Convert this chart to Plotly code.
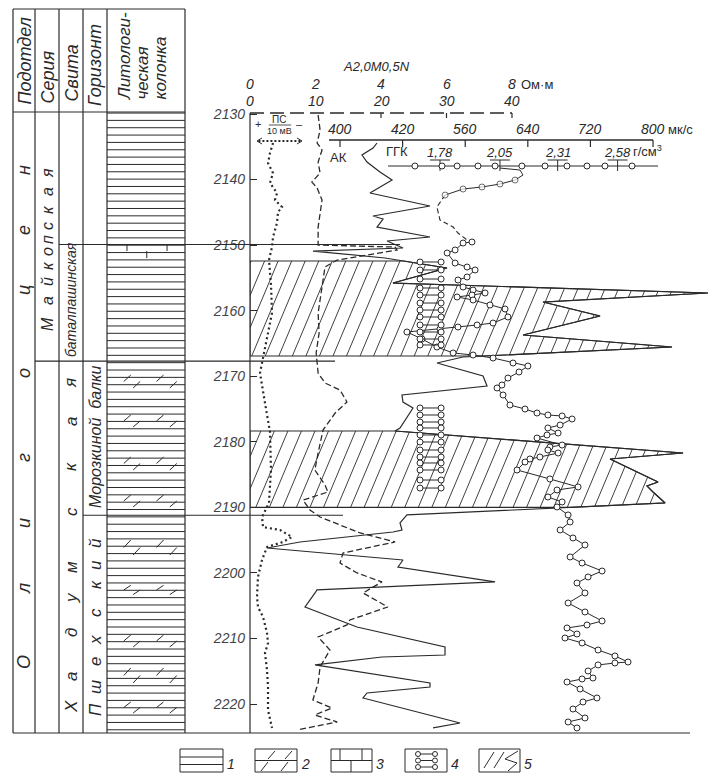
import numpy as np
import plotly.graph_objects as go

W, H = 717, 775
INK = "#2a2a2a"
FONT = "Liberation Sans Narrow, Liberation Sans, Arial, sans-serif"

# ======================= DATA =======================
DEPTH_TICKS = [2130, 2140, 2150, 2160, 2170, 2180, 2190, 2200, 2210, 2220]

# stratigraphic boundaries, m
B_BATAL = 2149.9
B_HADUM = 2167.7
B_PSHEH = 2191.2

# PS (spontaneous potential), mV deflection from the axis
PS_DEPTH = [2134.42, 2135.95, 2137.47, 2139.00, 2140.52, 2142.05, 2143.12, 2144.19, 2144.95, 2146.63,
            2148.76, 2150.29, 2152.27, 2156.08, 2160.35, 2164.01, 2167.06, 2169.50, 2174.08, 2178.50,
            2184.30, 2189.33, 2191.47, 2193.00, 2193.45, 2194.52, 2195.28, 2196.05, 2198.03, 2200.62,
            2203.67, 2205.20, 2206.72, 2209.16, 2210.69, 2212.21, 2214.81, 2217.40, 2220.91, 2223.65]
PS_MV = [5.48, 4.76, 4.29, 5.48, 4.76, 6.43, 5.95, 7.62, 6.67, 6.43,
         5.48, 5.24, 4.52, 5.00, 5.24, 4.05, 3.10, 2.38, 3.57, 4.76,
         5.00, 4.52, 2.86, 3.10, 7.14, 10.0, 7.86, 4.05, 2.86, 1.90,
         1.67, 1.90, 3.10, 4.05, 4.29, 3.57, 4.05, 4.29, 4.29, 5.24]

# apparent resistivity A2,0M0,5N, Ohm*m
RES_DEPTH = [2130.15, 2132.44, 2134.42, 2135.49, 2137.32, 2139.00, 2140.37, 2141.29, 2143.12, 2145.10,
             2147.24, 2149.98, 2150.29, 2150.74, 2152.27, 2153.34, 2155.32, 2157.91, 2160.35, 2163.40,
             2166.45, 2169.51, 2171.03, 2172.10, 2173.93, 2175.61, 2178.20, 2181.71, 2184.30, 2186.59,
             2187.66, 2188.88, 2190.40, 2191.47, 2193.91, 2195.28, 2196.96, 2198.49, 2200.01, 2201.38,
             2203.06, 2205.20, 2207.18, 2207.94, 2209.77, 2211.76, 2214.35, 2216.79, 2219.38, 2220.60,
             2221.67, 2222.74, 2223.96]
RES_OHMM = [2.08, 2.14, 2.05, 2.20, 2.08, 2.14, 1.89, 2.05, 2.20, 2.14,
            2.08, 2.08, 4.43, 4.49, 2.66, 2.29, 2.23, 2.14, 2.08, 2.11,
            2.02, 2.08, 2.29, 2.75, 2.96, 2.60, 2.23, 2.08, 1.98, 2.29,
            2.38, 1.62, 1.83, 2.14, 3.36, 4.43, 2.84, 2.75, 3.27, 4.03,
            3.45, 4.21, 3.05, 2.96, 2.08, 2.44, 2.14, 2.08, 1.92, 2.50,
            1.98, 2.66, 1.44]

# acoustic log (AK), mks
AK_DEPTH = [2134.42, 2135.19, 2136.25, 2137.32, 2138.85, 2140.07, 2142.05, 2144.03, 2145.56, 2146.02,
            2147.24, 2148.76, 2149.37, 2150.44, 2150.90, 2151.96, 2153.49, 2155.78, 2157.30, 2158.68,
            2160.81, 2163.71, 2165.54, 2167.06, 2167.98, 2169.96, 2171.49, 2172.86, 2173.93, 2174.84,
            2177.89, 2178.35, 2181.71, 2182.62, 2186.13, 2186.74, 2187.66, 2189.33, 2191.16, 2191.93,
            2192.38, 2193.45, 2193.76, 2195.28, 2196.20, 2198.03, 2199.10, 2201.38, 2202.60, 2203.06,
            2205.20, 2208.25, 2211.30, 2212.52, 2212.83, 2214.04, 2216.79, 2217.40, 2218.31, 2219.08,
            2222.89, 2223.65]
AK_US = [447.3, 442.2, 428.1, 434.5, 451.1, 466.5, 438.3, 515.0, 442.2, 455.0,
         447.3, 515.0, 460.1, 480.5, 365.5, 457.5, 536.7, 467.7, 870.3, 659.4,
         732.3, 633.9, 824.3, 557.2, 524.0, 582.8, 587.9, 479.2, 480.5, 493.3,
         476.7, 470.3, 838.4, 745.1, 806.4, 792.3, 800.0, 815.4, 485.6, 480.5,
         476.7, 479.2, 467.7, 348.9, 306.7, 480.5, 474.1, 598.1, 370.6, 368.1,
         355.3, 421.7, 534.2, 534.2, 453.7, 368.1, 515.0, 515.0, 434.5, 429.4,
         553.4, 518.9]

# gamma-gamma density (GGK), g/cm3
GGK_TOP_DEPTH = [2138.24, 2138.54, 2139.30, 2140.07, 2140.68, 2141.13, 2141.44, 2142.36]
GGK_TOP_RHO = [2.050, 2.140, 2.154, 2.118, 2.050, 1.969, 1.884, 1.803]
GGK_GAP_DEPTH = [2142.36, 2144.19, 2146.17, 2147.24, 2148.15, 2149.22, 2149.52]
GGK_GAP_RHO = [1.803, 1.766, 1.780, 1.839, 1.861, 1.902, 1.924]
GGK_DEPTH = [2149.52, 2149.68, 2150.74, 2151.20, 2152.73, 2153.34, 2153.79, 2154.86, 2155.32, 2156.39,
             2156.85, 2157.30, 2157.61, 2157.91, 2158.37, 2159.13, 2159.74, 2160.96, 2161.88, 2162.18,
             2162.49, 2162.79, 2163.25, 2164.32, 2165.54, 2166.45, 2166.76, 2167.22, 2167.98, 2168.44,
             2169.35, 2170.27, 2171.34, 2171.79, 2172.86, 2174.39, 2175.00, 2175.61, 2175.91, 2176.06,
             2176.52, 2177.44, 2177.89, 2178.66, 2178.96, 2179.42, 2180.49, 2180.79, 2181.25, 2181.71,
             2182.32, 2182.62, 2183.08, 2184.30, 2185.67, 2186.89, 2187.35, 2188.42, 2189.18, 2189.94,
             2191.16, 2192.23, 2193.45, 2194.67, 2195.74, 2197.57, 2198.49, 2199.71, 2200.62, 2201.54,
             2203.06, 2204.59, 2205.96, 2207.33, 2207.94, 2208.40, 2209.32, 2209.93, 2210.69, 2211.76,
             2212.67, 2213.59, 2213.74, 2214.04, 2214.96, 2216.03, 2216.18, 2216.64, 2217.71, 2219.08,
             2219.69, 2220.76, 2222.13, 2222.74, 2223.65]
GGK_RHO = [1.924, 1.884, 1.848, 1.812, 1.848, 1.902, 1.938, 1.902, 1.861, 1.884,
           1.929, 1.983, 1.924, 1.857, 1.929, 2.005, 2.073, 2.086, 2.019, 1.947,
           1.861, 1.780, 1.631, 1.699, 1.766, 1.839, 1.929, 2.019, 2.109, 2.176,
           2.136, 2.086, 2.059, 2.037, 2.064, 2.095, 2.163, 2.217, 2.266, 2.330,
           2.375, 2.321, 2.266, 2.312, 2.262, 2.217, 2.330, 2.275, 2.266, 2.312,
           2.230, 2.185, 2.163, 2.127, 2.275, 2.402, 2.307, 2.266, 2.330, 2.307,
           2.357, 2.366, 2.321, 2.379, 2.433, 2.366, 2.420, 2.510, 2.447, 2.397,
           2.433, 2.357, 2.433, 2.510, 2.442, 2.352, 2.397, 2.343, 2.420, 2.492,
           2.568, 2.627, 2.568, 2.492, 2.447, 2.469, 2.420, 2.352, 2.411, 2.487,
           2.424, 2.379, 2.433, 2.357, 2.397]

# hatched intervals (legend 5), m
HATCH_ZONES = [(2152.42, 2166.91), (2178.35, 2190.0)]
# sample rows (legend 4), m
CORE_DEPTHS = [2152.57, 2153.79, 2155.17, 2156.54, 2157.61, 2158.83, 2159.90, 2160.96, 2162.18, 2163.25,
               2164.32, 2165.23, 2174.84, 2175.91, 2176.98, 2177.89, 2178.96, 2180.03, 2181.25, 2182.32,
               2183.23, 2184.30, 2185.83, 2187.05]
# marl interbeds in the lithological column (top, bottom), m
MARL_BEDS = [(2169.81, 2171.79), (2175.91, 2177.74), (2182.32, 2184.30), (2188.11, 2189.94),
             (2194.98, 2197.27), (2201.9, 2203.3), (2209.47, 2211.30), (2214.50, 2216.79), (2219.69, 2221.37)]
LIMESTONE = (2149.83, 2151.97)

# scale labels
RES_TICKS = [0, 2, 4, 6, 8]
RES_TEXT_1 = ["0", "2", "4", "6", "8"]
RES_TEXT_2 = ["0", "10", "20", "30", "40"]
AK_TICKS = [400, 480, 560, 640, 720, 800]
AK_TEXT = ["400", "420", "560", "640", "720", "800"]
GGK_TICKS = [1.78, 2.05, 2.31, 2.58]
GGK_TEXT = ["1,78", "2,05", "2,31", "2,58"]
GGK_SCALE_MARKS = [1.667, 1.789, 1.857, 1.951, 2.028, 2.149, 2.253, 2.352, 2.442, 2.523, 2.645]

# ======================= GEOMETRY =======================
def fx(p):
    return p / W


def fy(p):
    return 1 - p / H


D_TOP, D_BOT = 2127.86, 2224.42
AK_RANGE = [285.0, 872.8]
RES_RANGE = [0.0, 14.046]
PS_RANGE = [0.0, 109.52]
GGK_RANGE = [0.9241, 2.9962]
CORE_L, CORE_R = 1.69, 1.785

shapes, annotations = [], []


def seg(x0, y0, x1, y1, xref="paper", yref="paper", width=1, dash=None):
    ln = dict(color=INK, width=width)
    if dash:
        ln["dash"] = dash
    shapes.append(dict(type="line", x0=x0, y0=y0, x1=x1, y1=y1, xref=xref, yref=yref, line=ln))


def pseg(a, b, c, d, width=1, dash=None):
    seg(fx(a), fy(b), fx(c), fy(d), width=width, dash=dash)


def txt(s, x, y, xref="paper", yref="paper", size=13, angle=0, xanchor="center",
        yanchor="middle", italic=True):
    annotations.append(dict(text=s, x=x, y=y, xref=xref, yref=yref, showarrow=False,
                            textangle=angle, xanchor=xanchor, yanchor=yanchor, borderpad=0,
                            font=dict(family=FONT, size=size, color=INK,
                                      style="italic" if italic else "normal")))


# ---- table frame ----
for c in [13, 35, 59, 83, 107, 185]:
    pseg(c, 9, c, 733, width=1.2)
pseg(13, 9, 185, 9, width=1.2)
pseg(13, 112, 185, 112, width=1.2)
pseg(13, 733, 690, 733, width=1.2)
pseg(250, 113, 250, 733, width=1.2)
seg(fx(59), B_BATAL, fx(400), B_BATAL, yref="y", width=1.2)
seg(fx(35), B_HADUM, fx(335), B_HADUM, yref="y", width=1.2)
seg(fx(83), B_PSHEH, fx(343), B_PSHEH, yref="y", width=1.2)

# ---- headers ----
txt("Подотдел", fx(24), fy(105), size=18, angle=-90, yanchor="bottom")
txt("Серия", fx(47), fy(105), size=18, angle=-90, yanchor="bottom")
txt("Свита", fx(71), fy(103), size=18, angle=-90, yanchor="bottom")
txt("Горизонт", fx(95), fy(107), size=18, angle=-90, yanchor="bottom")
txt("Литологи-", fx(124), fy(101), size=17, angle=-90, yanchor="bottom")
txt("ческая", fx(142), fy(101), size=17, angle=-90, yanchor="bottom")
txt("колонка", fx(160), fy(101), size=17, angle=-90, yanchor="bottom")


def spaced(word, xc, ys, size):
    for ch, yy in zip(word, ys):
        txt(ch, fx(xc), fy(yy), size=size, angle=-90)


spaced("Олигоцен", 24, [662, 588, 523, 457, 373, 290, 230, 170], 18)
spaced("Майкопская", 47, [324, 301, 282, 266, 252, 240, 226, 210, 192, 173], 16)
spaced("Хадумская", 71, [707, 677, 633, 598, 567, 512, 467, 422, 383], 17)
spaced("Пшехский", 95, [710, 687, 662, 640, 613, 585, 565, 543], 17)
txt("баталпашинская", fx(71), fy(300), size=14, angle=-90)
txt("Морозкиной  балки", fx(95), fy(437), size=16, angle=-90)

# ---- resistivity scale (top) ----
txt("A2,0M0,5N", 3.85, fy(66), xref="x2", size=13)
for v, t1, t2 in zip(RES_TICKS, RES_TEXT_1, RES_TEXT_2):
    txt(t1, v, fy(84), xref="x2", size=14)
    txt(t2, v, fy(101), xref="x2", size=14)
txt("Ом·м", 8.25, fy(84), xref="x2", size=13, xanchor="left", italic=False)
seg(RES_TICKS[0], fy(113), RES_TICKS[-1], fy(113), xref="x2", width=1.3, dash="14px,6px")
for v in RES_TICKS[2:]:
    seg(v, fy(113), v, fy(118), xref="x2", width=1.2)

# ---- PS scale ----
txt("+", 1.9, fy(124), xref="x3", size=11, italic=False)
txt("ПС", 7.0, fy(119), xref="x3", size=10, italic=False)
seg(4.5, fy(125), 9.8, fy(125), xref="x3", width=0.8)
txt("10 мВ", 7.1, fy(131), xref="x3", size=9, italic=False)
txt("–", 11.9, fy(124), xref="x3", size=11, italic=False)
seg(2.0, fy(141), 12.0, fy(141), xref="x3", width=2, dash="2px,2px")
shapes.append(dict(type="path", xref="paper", yref="paper", line=dict(color=INK, width=1),
                   path=f"M {fx(262)} {fy(138)} L {fx(257)} {fy(141)} L {fx(262)} {fy(144)}"))
shapes.append(dict(type="path", xref="paper", yref="paper", line=dict(color=INK, width=1),
                   path=f"M {fx(297)} {fy(138)} L {fx(302)} {fy(141)} L {fx(297)} {fy(144)}"))

# ---- AK scale ----
seg(386, fy(140), AK_TICKS[-1], fy(140), xref="x", width=1.3)
for v, t in zip(AK_TICKS, AK_TEXT):
    seg(v, fy(140), v, fy(147), xref="x", width=1.2)
    txt(t, v, fy(129), xref="x", size=14)
txt("мк/с", 818, fy(129), xref="x", size=13, xanchor="left", italic=False)
txt("АК", 386, fy(157), xref="x", size=13, xanchor="left", italic=False)

# ---- GGK scale ----
txt("ГГК", 1.532, fy(151), xref="x4", size=13, xanchor="left", italic=False)
seg(1.546, fy(166), 2.762, fy(166), xref="x4", width=1)
for v, t in zip(GGK_TICKS, GGK_TEXT):
    seg(v - 0.045, fy(160), v + 0.045, fy(160), xref="x4", width=1)
    seg(v, fy(160), v, fy(171), xref="x4", width=1)
    txt(t, v, fy(152), xref="x4", size=13)
txt("г/см<sup>3</sup>", 2.645, fy(151), xref="x4", size=13, xanchor="left", italic=False)
for v in GGK_SCALE_MARKS:
    shapes.append(dict(type="circle", xref="x4", yref="paper", xsizemode="pixel", ysizemode="pixel",
                       xanchor=v, yanchor=fy(166), x0=-3, x1=3, y0=-3, y1=3,
                       fillcolor="white", line=dict(color=INK, width=1)))

# ---- legend ----
boxes = [(180, 223), (255, 297), (331, 372), (405, 447), (479, 520)]
for i, (a, b) in enumerate(boxes):
    shapes.append(dict(type="rect", xref="paper", yref="paper", x0=fx(a), x1=fx(b),
                       y0=fy(772), y1=fy(749), line=dict(color=INK, width=1)))
    txt(str(i + 1), fx(b + 8), fy(764), size=14)
pseg(180, 757, 223, 757)
pseg(180, 764.5, 223, 764.5)
pseg(255, 760.5, 297, 760.5)
for (x0, y0, x1, y1) in [(268, 759, 275, 751), (285, 759, 292, 751), (261, 771, 268, 762), (281, 771, 288, 762)]:
    pseg(x0, y0, x1, y1)
pseg(331, 760.5, 372, 760.5)
for x in (340, 362):
    pseg(x, 749, x, 760.5)
pseg(351, 760.5, 351, 772)
for yy in (754, 760.5, 767):
    pseg(418, yy, 435, yy)
    for xx in (418, 435):
        shapes.append(dict(type="circle", xref="paper", yref="paper", x0=fx(xx - 2.5), x1=fx(xx + 2.5),
                           y0=fy(yy + 2.5), y1=fy(yy - 2.5), fillcolor="white",
                           line=dict(color=INK, width=1)))
pseg(484, 768, 494, 752)
pseg(494, 768, 504, 752)
shapes.append(dict(type="path", xref="paper", yref="paper", line=dict(color=INK, width=1),
                   path=(f"M {fx(518)} {fy(751)} L {fx(505)} {fy(759)} L {fx(517)} {fy(763)} "
                         f"L {fx(508)} {fy(771)}")))

# ======================= TRACES =======================
fig = go.Figure()

# lithological column
litho_depths = np.arange(2129.85, D_BOT, 1.12)
lx, ly = [], []
for d in litho_depths:
    lx += [0, 1, None]
    ly += [d, d, None]
mid = (LIMESTONE[0] + LIMESTONE[1]) / 2
for xf in (0.256, 0.77):
    lx += [xf, xf, None]
    ly += [LIMESTONE[0], mid, None]
lx += [0.51, 0.51, None]
ly += [mid, LIMESTONE[1], None]
for top, bot in MARL_BEDS:
    m = (top + bot) / 2
    for (r_top, r_bot, xs) in [(top, m, (0.26, 0.68)), (m, bot, (0.38, 0.85))]:
        for xf in xs:
            lx += [xf - 0.045, xf + 0.045, None]
            ly += [r_bot, r_top, None]
fig.add_trace(go.Scatter(x=lx, y=ly, xaxis="x5", yaxis="y", mode="lines",
                         line=dict(color=INK, width=1), hoverinfo="skip"))


def hatch(poly_x, poly_y, s, step):
    pxa = np.asarray(poly_x, float)
    pya = np.asarray(poly_y, float)
    g = pxa + s * pya
    n = len(pxa)
    xs, ys = [], []
    c = np.floor(g.min() / step) * step + step * 0.5
    while c < g.max():
        pts = []
        for i in range(n):
            j = (i + 1) % n
            g1, g2 = g[i], g[j]
            if (g1 - c) * (g2 - c) < 0:
                t = (c - g1) / (g2 - g1)
                pts.append((pxa[i] + t * (pxa[j] - pxa[i]), pya[i] + t * (pya[j] - pya[i])))
        pts.sort(key=lambda p: p[1])
        for k in range(0, len(pts) - 1, 2):
            xs += [pts[k][0], pts[k + 1][0], None]
            ys += [pts[k][1], pts[k + 1][1], None]
        c += step
    return xs, ys


akd = np.array(AK_DEPTH)
akv = np.array(AK_US)
for top, bot in HATCH_ZONES:
    inside = (akd > top) & (akd < bot)
    vt = float(np.interp(top, akd, akv))
    vb = float(np.interp(bot, akd, akv))
    polx = [AK_RANGE[0], vt] + list(akv[inside]) + [vb, AK_RANGE[0]]
    poly = [top, top] + list(akd[inside]) + [bot, bot]
    hx, hy = hatch(polx, poly, 3.52, 17.3)
    fig.add_trace(go.Scatter(x=hx, y=hy, xaxis="x", yaxis="y", mode="lines",
                             line=dict(color=INK, width=0.9), hoverinfo="skip"))
    fig.add_trace(go.Scatter(x=polx + [polx[0]], y=poly + [poly[0]], xaxis="x", yaxis="y",
                             mode="lines", line=dict(color=INK, width=1.1), hoverinfo="skip"))

fig.add_trace(go.Scatter(x=PS_MV, y=PS_DEPTH, xaxis="x3", yaxis="y", mode="lines",
                         line=dict(color=INK, width=2.2, dash="2px,3px")))
fig.add_trace(go.Scatter(x=RES_OHMM, y=RES_DEPTH, xaxis="x2", yaxis="y", mode="lines",
                         line=dict(color=INK, width=1.3, dash="6px,3px")))
fig.add_trace(go.Scatter(x=AK_US, y=AK_DEPTH, xaxis="x", yaxis="y", mode="lines",
                         line=dict(color=INK, width=1.2)))
fig.add_trace(go.Scatter(x=GGK_GAP_RHO, y=GGK_GAP_DEPTH, xaxis="x4", yaxis="y", mode="lines",
                         line=dict(color=INK, width=1.1, dash="5px,3px")))
circ = dict(symbol="circle", size=6, color="white", line=dict(color=INK, width=1))
fig.add_trace(go.Scatter(x=GGK_TOP_RHO, y=GGK_TOP_DEPTH, xaxis="x4", yaxis="y", mode="lines+markers",
                         line=dict(color=INK, width=1),
                         marker=dict(circ, size=[0, 0, 0, 6, 6, 6, 6, 6])))
fig.add_trace(go.Scatter(x=GGK_RHO, y=GGK_DEPTH, xaxis="x4", yaxis="y", mode="lines+markers",
                         line=dict(color=INK, width=1), marker=circ))
cx, cy = [], []
for d in CORE_DEPTHS:
    cx += [CORE_L, CORE_R, None]
    cy += [d, d, None]
fig.add_trace(go.Scatter(x=cx, y=cy, xaxis="x4", yaxis="y", mode="lines+markers",
                         line=dict(color=INK, width=1), marker=circ))

hidden = dict(visible=False, showgrid=False, zeroline=False, fixedrange=True)
fig.update_layout(
    width=W, height=H, margin=dict(l=0, r=0, t=0, b=0),
    paper_bgcolor="white", plot_bgcolor="rgba(0,0,0,0)", showlegend=False,
    xaxis=dict(hidden, domain=[fx(250), fx(710)], range=AK_RANGE, anchor="y"),
    xaxis2=dict(hidden, overlaying="x", range=RES_RANGE, anchor="y"),
    xaxis3=dict(hidden, overlaying="x", range=PS_RANGE, anchor="y"),
    xaxis4=dict(hidden, overlaying="x", range=GGK_RANGE, anchor="y"),
    xaxis5=dict(hidden, domain=[fx(107), fx(185)], range=[0, 1], anchor="y"),
    yaxis=dict(domain=[fy(733), fy(100)], range=[D_BOT, D_TOP], anchor="x",
               tickvals=DEPTH_TICKS, ticks="inside", ticklen=7, tickwidth=1, tickcolor=INK,
               showgrid=False, zeroline=False, showline=False, fixedrange=True,
               ticklabelstandoff=4,
               tickfont=dict(family=FONT, size=14, color="#444", style="italic")),
    shapes=shapes, annotations=annotations,
)
fig.write_html("out.html", config={"displayModeBar": False},
               post_script="document.body.style.margin='0';document.body.style.overflow='hidden';")
